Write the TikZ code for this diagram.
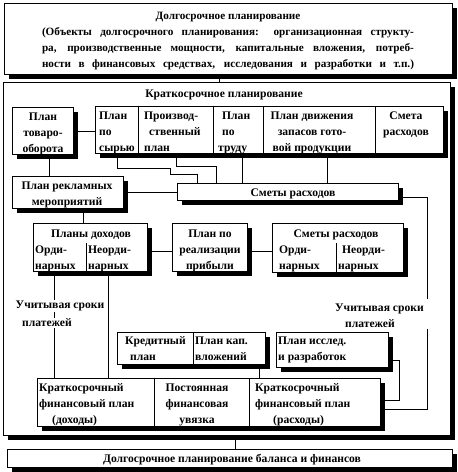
\documentclass[tikz,border=0pt]{standalone}
\usepackage{fontspec}
\setmainfont{Liberation Serif}
\usetikzlibrary{shadows}
\begin{document}
\begin{tikzpicture}[x=1pt,y=-1pt,
  box/.style={draw, line width=0.8pt, fill=white, inner sep=0pt, anchor=north west,
    drop shadow={shadow xshift=4.5pt, shadow yshift=-4.5pt, fill=black, opacity=1}},
  cell/.style={draw, line width=0.8pt, inner sep=0pt, anchor=north west},
  txt/.style={font=\bfseries\fontsize{11.6}{16}\selectfont, inner sep=0pt},
  tl/.style={txt, anchor=north west, align=left},
  tc/.style={txt, anchor=north, align=center},
  lbl/.style={txt, fill=white, inner sep=1pt},
  conn/.style={line width=0.8pt}]
\useasboundingbox (0,0) rectangle (458,472);

% boxes
\node[box, minimum width=448pt, minimum height=71pt] (T) at (4,3) {};
\node[box, minimum width=447pt, minimum height=353pt] (B) at (3,82) {};
\node[box, minimum width=61pt, minimum height=47pt] (TO) at (12,107) {};
\node[box, minimum width=348pt, minimum height=47pt] (R) at (95,106) {};
\node[cell, minimum width=43pt, minimum height=47pt] (c1) at (95,106) {};
\node[cell, minimum width=75pt, minimum height=47pt] (c2) at (138,106) {};
\node[cell, minimum width=50pt, minimum height=47pt] (c3) at (213,106) {};
\node[cell, minimum width=112pt, minimum height=47pt] (c4) at (263,106) {};
\node[cell, minimum width=68pt, minimum height=47pt] (c5) at (375,106) {};
\node[box, minimum width=221pt, minimum height=17pt] (SM) at (177,183) {};
\node[box, minimum width=111pt, minimum height=32pt] (RM) at (12,176) {};
\node[box, minimum width=114pt, minimum height=48pt] (PD) at (33,223) {};
\node[box, minimum width=75pt, minimum height=48pt] (PR) at (172,223) {};
\node[box, minimum width=131pt, minimum height=49pt] (SR) at (272,223) {};
\node[box, minimum width=148pt, minimum height=32pt] (KP) at (117,332) {};
\node[box, minimum width=112pt, minimum height=35pt] (IR) at (276,332) {};
\node[box, minimum width=343pt, minimum height=48pt] (KF) at (37,378) {};
\node[box, minimum width=445pt, minimum height=18pt] (LB) at (7,449) {};

% dividers inside boxes
\draw[conn] (PD.south west) ++(53,0) coordinate (pdd) -- ++(0,-29);
\draw[conn] (SR.south west) ++(64,0) coordinate (srd) -- ++(0,-30);
\draw[conn] (KP.south west) ++(76,0) coordinate (kpd) -- ++(0,-32);
\draw[conn] (KF.south west) ++(117,0) coordinate (kfd1) -- ++(0,-48);
\draw[conn] (KF.south west) ++(212,0) coordinate (kfd2) -- ++(0,-48);

% texts
\node[tc, font=\bfseries\fontsize{11.2}{16}\selectfont] (t1) at (228,8) {\strut Долгосрочное планирование\\
\makebox[372pt][s]{(Объекты долгосрочного планирования: организационная структу-}\\
\makebox[372pt][s]{ра, производственные мощности, капитальные вложения, потреб-}\\
\makebox[372pt][s]{ности в финансовых средствах, исследования и разработки и т.п.)}};
\node[tc] (bt) at (224,86) {\strut Краткосрочное планирование};
\node[tc] (tot) at (43,109) {\strut План\\товаро-\\оборота};
\node[tl] (c1t) at (99,108) {\strut План\\по\\сырью};
\node[tl] (c2t) at (144,108) {\strut Производ-\\\hspace*{5pt}ственный\\план};
\node[tl] (c3t) at (218,108) {\strut\hspace*{4pt}План\\\hspace*{4pt}по\\труду};
\node[tc] (c4t) at (312,108) {\strut План движения\\запасов гото-\\вой продукции};
\node[tc] (c5t) at (406,108) {\strut Смета\\расходов};
\node[tc] (smt) at (293,185) {\strut Сметы расходов};
\node[tc] (rmt) at (67,178) {\strut План рекламных\\мероприятий};
\node[tc] (pdt) at (91,226) {\strut Планы доходов};
\node[tl] (pd1) at (35,242) {\strut Орди-\\нарных};
\node[tl] (pd2) at (88,242) {\strut Неорди-\\нарных};
\node[tc] (prt) at (210,226) {\strut План по\\реализации\\прибыли};
\node[tc] (srt) at (336,226) {\strut Сметы расходов};
\node[tl] (sr1) at (279,242) {\strut Орди-\\нарных};
\node[tl] (sr2) at (338,242) {\strut\hspace*{4pt}Неорди-\\нарных};
\node[tl] (kp1) at (125,333) {\strut Кредитный\\\hspace*{5pt}план};
\node[tl] (kp2) at (195,333) {\strut План кап.\\вложений};
\node[tl] (irt) at (278,333) {\strut План исслед.\\и разработок};
\node[tl] (kf1) at (39,380) {\strut Краткосрочный\\финансовый план\\\hspace*{13pt}(доходы)};
\node[tc] (kf2) at (197,380) {\strut Постоянная\\финансовая\\увязка};
\node[tl] (kf3) at (255,380) {\strut Краткосрочный\\финансовый план\\\hspace*{18pt}(расходы)};
\node[tc] (lbt) at (232,451) {\strut Долгосрочное планирование баланса и финансов};

% connectors
\draw[conn] ([xshift=-9pt]T.south) coordinate (a0) -- (a0 |- B.north);
\draw[conn] ([xshift=5.5pt]LB.north) coordinate (a1) -- (a1 |- B.south);
\draw[conn] (TO.east) -- (TO.east -| R.west);
\draw[conn] ([xshift=6.5pt]TO.south) coordinate (a2) -- (a2 |- RM.north);
\draw[conn] (RM.east) -- (RM.east -| SM.west);
\draw[conn] ([xshift=15.5pt]RM.south) coordinate (a3) -- (a3 |- PD.north);
\draw[conn] ([yshift=-4pt]PD.east) coordinate (a4) -- (a4 -| PR.west);
\draw[conn] ([yshift=-4pt]PR.east) coordinate (a5) -- (a5 -| SR.west);
\draw[conn] (c1.south) -- ++(0,15) -- ++(53,0) -- ++(0,6) -- ++(27,0) coordinate (a6) -- (a6 |- SM.north);
\draw[conn] (c2.south) -- ++(0,13) -- ++(40.5,0) coordinate (a7) -- (a7 |- SM.north);
\draw[conn] ([xshift=4pt]c3.south) coordinate (a8) -- (a8 |- SM.north);
\draw[conn] ([xshift=8pt]c4.south) coordinate (a9) -- (a9 |- SM.north);
\draw[conn] ([yshift=-5.5pt]SM.east) -- ++(29,0) |- ([yshift=-7pt]KF.east);
\draw[conn] ([yshift=7pt]IR.south east) -- ++(11,0) |- ([yshift=2pt]KF.east);
\draw[conn] ([xshift=-6pt]KP.south east) coordinate (a10) -- (a10 |- KF.north);
\draw[conn] ([xshift=21pt]PD.south west) coordinate (a11) -- (a11 |- KF.north);
\draw[conn] ([xshift=75pt]PD.south west) coordinate (a12) -- (a12 |- KF.north);

% labels over lines
\node[lbl] (l1a) at (60,306) {Учитывая сроки};
\node[lbl] (l1b) at (47,323) {платежей};
\node[lbl, anchor=north west, align=left, inner xsep=4pt] (l2) at (331,299) {\strut Учитывая сроки\\\hspace*{10pt}платежей};
\end{tikzpicture}
\end{document}
